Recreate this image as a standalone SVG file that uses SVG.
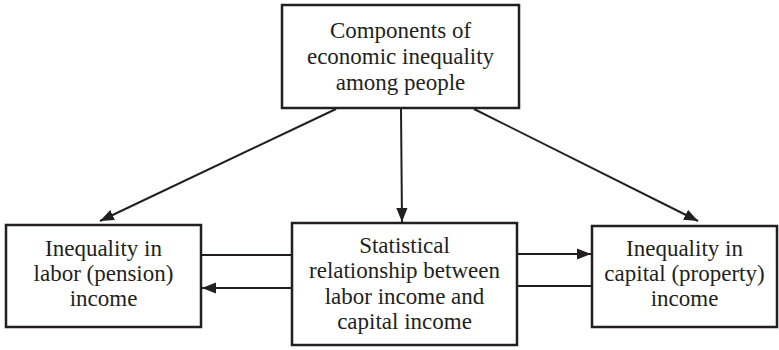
<svg xmlns="http://www.w3.org/2000/svg" width="779" height="350" viewBox="0 0 779 350">
<style>
.box{fill:#fff;stroke:#231f20;stroke-width:2.5}
.c{stroke:#231f20;stroke-width:2;fill:none}
</style>
<defs>
<marker id="ahL" viewBox="0 0 10 10" refX="10" refY="5" markerWidth="14" markerHeight="14" markerUnits="userSpaceOnUse" orient="auto">
<path d="M0,1 L10,5 L0,9 z" fill="#231f20"/>
</marker>
</defs>
<g id="connectors">
<line class="c" x1="336" y1="109" x2="100" y2="221" marker-end="url(#ahL)"/>
<line class="c" x1="401" y1="109" x2="402" y2="222" marker-end="url(#ahL)"/>
<line class="c" x1="474" y1="109" x2="698" y2="221" marker-end="url(#ahL)"/>
<line class="c" x1="201" y1="255" x2="291" y2="255"/>
<line class="c" x1="291" y1="288" x2="202" y2="288" marker-end="url(#ahL)"/>
<line class="c" x1="517" y1="254" x2="591" y2="254" marker-end="url(#ahL)"/>
<line class="c" x1="517" y1="286" x2="592" y2="286"/>
</g>
<g id="top">
<rect class="box" x="282" y="5" width="237" height="103"/>
<text x="400.5" y="38" style="font-family:'Liberation Serif',serif !important;font-size:23px;fill:#231f20;text-anchor:middle">Components of</text>
<text x="400.5" y="64" style="font-family:'Liberation Serif',serif !important;font-size:23px;fill:#231f20;text-anchor:middle">economic inequality</text>
<text x="400.5" y="90" style="font-family:'Liberation Serif',serif !important;font-size:23px;fill:#231f20;text-anchor:middle">among people</text>
</g>
<g id="labor">
<rect class="box" x="6" y="225" width="195" height="102"/>
<text x="103.5" y="256" style="font-family:'Liberation Serif',serif !important;font-size:23px;fill:#231f20;text-anchor:middle">Inequality in</text>
<text x="103.5" y="281" style="font-family:'Liberation Serif',serif !important;font-size:23px;fill:#231f20;text-anchor:middle">labor (pension)</text>
<text x="103.5" y="306" style="font-family:'Liberation Serif',serif !important;font-size:23px;fill:#231f20;text-anchor:middle">income</text>
</g>
<g id="stat">
<rect class="box" x="292" y="223" width="225" height="122"/>
<text x="404.5" y="253" style="font-family:'Liberation Serif',serif !important;font-size:23px;fill:#231f20;text-anchor:middle">Statistical</text>
<text x="404.5" y="278" style="font-family:'Liberation Serif',serif !important;font-size:23px;fill:#231f20;text-anchor:middle">relationship between</text>
<text x="404.5" y="304" style="font-family:'Liberation Serif',serif !important;font-size:23px;fill:#231f20;text-anchor:middle">labor income and</text>
<text x="404.5" y="329" style="font-family:'Liberation Serif',serif !important;font-size:23px;fill:#231f20;text-anchor:middle">capital income</text>
</g>
<g id="capital">
<rect class="box" x="592" y="226" width="185" height="101"/>
<text x="684.5" y="256" style="font-family:'Liberation Serif',serif !important;font-size:23px;fill:#231f20;text-anchor:middle">Inequality in</text>
<text x="684.5" y="281" style="font-family:'Liberation Serif',serif !important;font-size:23px;fill:#231f20;text-anchor:middle">capital (property)</text>
<text x="684.5" y="306" style="font-family:'Liberation Serif',serif !important;font-size:23px;fill:#231f20;text-anchor:middle">income</text>
</g>
</svg>
